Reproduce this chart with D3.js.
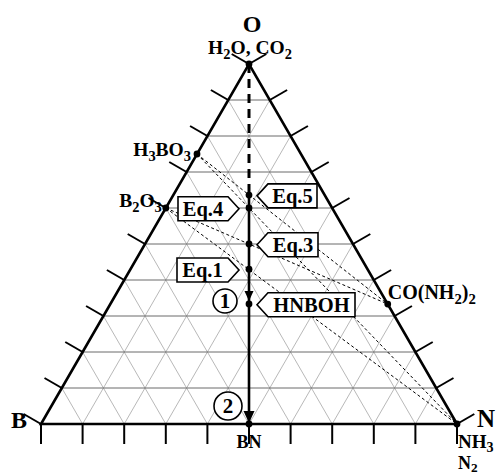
<!DOCTYPE html>
<html>
<head>
<meta charset="utf-8">
<script src="https://cdn.jsdelivr.net/npm/d3@7"></script>
<style>
  body { margin: 0; background: #fff; }
  svg { display: block; }
</style>
</head>
<body>
<script>
// B–N–O ternary composition diagram (fractions given as B, N, O)
const vertexNames = ["B", "N", "O"];

const compoundNames = ["H2O, CO2", "H3BO3", "B2O3", "CO(NH2)2", "NH3", "BN", "HNBOH"];
const compoundB = [0, 0.25, 0.4, 0, 0, 0.5, 0.333];
const compoundN = [0, 0, 0, 0.667, 1, 0.5, 0.333];
const compoundO = [1, 0.75, 0.6, 0.333, 0, 0, 0.333];

// Mixture compositions lying on the B:N = 1:1 line
const eqNames = ["Eq.5", "Eq.4", "Eq.3", "Eq.1"];
const eqO = [0.636, 0.6, 0.5, 0.43];

// Precursor mixing lines
const mixFrom = ["H3BO3", "H3BO3", "B2O3", "B2O3"];
const mixTo = ["CO(NH2)2", "NH3", "CO(NH2)2", "NH3"];

const gridFractions = [0.1, 0.2, 0.3, 0.4, 0.5, 0.6, 0.7, 0.8, 0.9];
const tickFractions = [0, 0.1, 0.2, 0.3, 0.4, 0.5, 0.6, 0.7, 0.8, 0.9, 1];

const W = 501, H = 475;
const svg = d3.select("body").append("svg").attr("width", W).attr("height", H);

// x: position along the B→N base, y: oxygen fraction
const x = d3.scaleLinear().domain([0, 1]).range([41, 457]);
const y = d3.scaleLinear().domain([0, 1]).range([424, 64]);
function pt(b, n, o) {
  const s = b + n + o;
  return [x((n + o / 2) / s), y(o / s)];
}
const comp = {};
compoundNames.forEach((name, i) => {
  comp[name] = pt(compoundB[i], compoundN[i], compoundO[i]);
});
const SERIF = "'Liberation Serif','Times New Roman',serif";

// Bold serif text; digits become subscripts when `subs` is set
function chem(g, str, px, py, size, anchor, subs = true, shift = 0.24) {
  const t = g.append("text")
    .attr("x", px).attr("y", py)
    .attr("text-anchor", anchor)
    .attr("font-family", SERIF)
    .attr("font-weight", "bold")
    .attr("font-size", size)
    .attr("fill", "#000");
  if (!subs) { t.text(str); return t; }
  const parts = str.match(/\d+|\D+/g);
  let shifted = false;
  parts.forEach(p => {
    const isSub = /^\d+$/.test(p);
    const ts = t.append("tspan").text(p);
    if (isSub) {
      ts.attr("font-size", size * 0.74).attr("dy", shifted ? 0 : size * shift);
      shifted = true;
    } else {
      if (shifted) ts.attr("dy", -size * shift);
      shifted = false;
    }
  });
  return t;
}

// ---- grid ----
const grid = svg.append("g");
gridFractions.forEach(f => {
  // constant B
  let a = pt(f, 1 - f, 0), b = pt(f, 0, 1 - f);
  grid.append("line").attr("x1", a[0]).attr("y1", a[1]).attr("x2", b[0]).attr("y2", b[1])
    .attr("stroke", "#9a9a9a").attr("stroke-width", 0.7);
  // constant N
  a = pt(1 - f, f, 0); b = pt(0, f, 1 - f);
  grid.append("line").attr("x1", a[0]).attr("y1", a[1]).attr("x2", b[0]).attr("y2", b[1])
    .attr("stroke", "#9a9a9a").attr("stroke-width", 0.7);
});
gridFractions.forEach(f => {
  // constant O
  const a = pt(1 - f, 0, f), b = pt(0, 1 - f, f);
  grid.append("line").attr("x1", a[0]).attr("y1", a[1]).attr("x2", b[0]).attr("y2", b[1])
    .attr("stroke", "#6a6a6a").attr("stroke-width", 1);
});

// ---- mixing lines ----
mixFrom.forEach((f, i) => {
  const a = comp[f], b = comp[mixTo[i]];
  svg.append("line").attr("x1", a[0]).attr("y1", a[1]).attr("x2", b[0]).attr("y2", b[1])
    .attr("stroke", "#000").attr("stroke-width", 1).attr("stroke-dasharray", "3,2.5");
});

// ---- triangle frame ----
const vB = pt(1, 0, 0), vN = pt(0, 1, 0), vO = pt(0, 0, 1);
svg.append("path")
  .attr("d", d3.line()([vB, vN, vO]) + "Z")
  .attr("fill", "none").attr("stroke", "#000").attr("stroke-width", 2.6)
  .attr("stroke-linejoin", "miter");

// ---- ticks, perpendicular outward ----
const TL = 20, c30 = Math.cos(Math.PI / 6), s30 = 0.5;
const ticks = svg.append("g").attr("stroke", "#000").attr("stroke-width", 2);
tickFractions.forEach(t => {
  let p = pt(1 - t, t, 0);
  ticks.append("line").attr("x1", p[0]).attr("y1", p[1]).attr("x2", p[0]).attr("y2", p[1] + TL);
  p = pt(1 - t, 0, t);
  ticks.append("line").attr("x1", p[0]).attr("y1", p[1]).attr("x2", p[0] - TL * c30).attr("y2", p[1] - TL * s30);
  p = pt(0, 1 - t, t);
  ticks.append("line").attr("x1", p[0]).attr("y1", p[1]).attr("x2", p[0] + TL * c30).attr("y2", p[1] - TL * s30);
});

// ---- reaction path along B:N = 1:1 ----
const eqPts = eqO.map(o => pt((1 - o) / 2, (1 - o) / 2, o));
svg.append("line")
  .attr("x1", vO[0]).attr("y1", vO[1]).attr("x2", eqPts[0][0]).attr("y2", eqPts[0][1])
  .attr("stroke", "#000").attr("stroke-width", 3).attr("stroke-dasharray", "9,6");
svg.append("line")
  .attr("x1", eqPts[0][0]).attr("y1", eqPts[0][1]).attr("x2", comp["BN"][0]).attr("y2", comp["BN"][1])
  .attr("stroke", "#000").attr("stroke-width", 2.6);

// arrowheads
function arrowDown(tip, h, hw) {
  svg.append("path")
    .attr("d", d3.line()([[tip[0], tip[1]], [tip[0] - hw, tip[1] - h], [tip[0] + hw, tip[1] - h]]) + "Z")
    .attr("fill", "#000");
}
arrowDown([comp["HNBOH"][0], comp["HNBOH"][1] - 3], 10, 4.5);
arrowDown([comp["BN"][0], comp["BN"][1] - 1], 12, 5.5);

// ---- points ----
const dots = ["H2O, CO2", "H3BO3", "B2O3", "CO(NH2)2", "NH3", "BN", "HNBOH"].map(n => comp[n]).concat(eqPts);
svg.append("g").selectAll("circle").data(dots).join("circle")
  .attr("cx", d => d[0]).attr("cy", d => d[1]).attr("r", 3.4).attr("fill", "#000");

// ---- pointer labels ----
function pointerBox(p, text, side, bodyW) {
  const h = 24, gap = 8, notch = 11;
  const cy = p[1] + 0.8;
  const dir = side === "right" ? 1 : -1;
  const tipX = p[0] + dir * (side === "right" ? gap : gap + 2);
  const pts = [[tipX, cy], [tipX + dir * notch, cy - h / 2], [tipX + dir * (notch + bodyW), cy - h / 2],
               [tipX + dir * (notch + bodyW), cy + h / 2], [tipX + dir * notch, cy + h / 2]];
  svg.append("path").attr("d", d3.line()(pts) + "Z")
    .attr("fill", "#fff").attr("stroke", "#000").attr("stroke-width", 1.6);
  chem(svg, text, tipX + dir * (notch + bodyW / 2), cy + 7, 20.5, "middle", false);
}
pointerBox(eqPts[0], eqNames[0], "right", 49);
pointerBox(eqPts[1], eqNames[1], "left", 50);
pointerBox(eqPts[2], eqNames[2], "right", 50);
pointerBox(eqPts[3], eqNames[3], "left", 51);
pointerBox(comp["HNBOH"], "HNBOH", "right", 87);

// ---- numbered stages ----
function stage(cx, cy, r, label) {
  svg.append("circle").attr("cx", cx).attr("cy", cy).attr("r", r)
    .attr("fill", "#fff").attr("stroke", "#000").attr("stroke-width", 1.6);
  chem(svg, label, cx, cy + 7, 21, "middle", false);
}
stage(comp["HNBOH"][0] - 24, comp["HNBOH"][1] - 3, 12, "1");
stage(comp["BN"][0] - 21, comp["BN"][1] - 18, 14, "2");

// ---- vertex and compound labels ----
chem(svg, vertexNames[2], vO[0] + 3, 32, 24, "middle");
chem(svg, vertexNames[0], 11, 428, 24, "start");
chem(svg, vertexNames[1], 477, 427, 25, "start");
chem(svg, "H2O, CO2", vO[0] + 1, 54, 19.5, "middle");
chem(svg, "H3BO3", comp["H3BO3"][0] - 6, comp["H3BO3"][1] + 2, 19.5, "end");
chem(svg, "B2O3", comp["B2O3"][0] - 4, comp["B2O3"][1] - 1, 19.5, "end");
chem(svg, "CO(NH2)2", comp["CO(NH2)2"][0], comp["CO(NH2)2"][1] - 5, 20, "start");
chem(svg, "NH3", vN[0] + 1, 448, 19, "start", true, 0.2);
chem(svg, "N2", vN[0] + 1, 469, 18, "start", true, 0.16);
chem(svg, "BN", comp["BN"][0], 448, 18, "middle");
</script>
</body>
</html>
